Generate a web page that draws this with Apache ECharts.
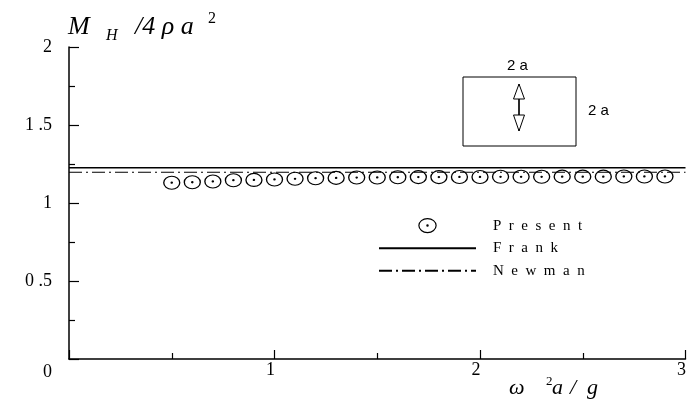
<!DOCTYPE html>
<html>
<head>
<meta charset="utf-8">
<script src="https://cdn.jsdelivr.net/npm/echarts@6/dist/echarts.min.js"></script>
<style>
html,body{margin:0;padding:0;background:#fff;}
#chart{width:689px;height:402px;}
</style>
</head>
<body>
<div id="chart"></div>
<script>
// ---- data ----
var presentX = [0.5,0.6,0.7,0.8,0.9,1.0,1.1,1.2,1.3,1.4,1.5,1.6,1.7,1.8,1.9,2.0,2.1,2.2,2.3,2.4,2.5,2.6,2.7,2.8,2.9];
var presentY = [1.130,1.133,1.138,1.146,1.148,1.151,1.155,1.159,1.161,1.163,1.164,1.165,1.166,1.166,1.167,1.167,1.168,1.168,1.168,1.169,1.169,1.169,1.170,1.170,1.170];
var lineX = [0, 3];
var frankValue = 1.226;
var newmanValue = 1.197;
var seriesNames = ['Present', 'Frank', 'Newman'];
var xTickLabels = {0: '0', 1: '1', 2: '2', 3: '3'};
var yTickLabels = {0: '0', 0.5: '0 .5', 1: '1', 1.5: '1 .5', 2: '2'};

var serif = 'Liberation Serif, Times New Roman, serif';
var sans = 'Liberation Sans, Arial, sans-serif';
var ellipsePath = 'path://M0 6.5A8 6.5 0 1 0 16 6.5A8 6.5 0 1 0 0 6.5Z M7.4 6.5A0.6 0.6 0 1 0 8.6 6.5A0.6 0.6 0 1 0 7.4 6.5Z';

var chart = echarts.init(document.getElementById('chart'), null, {renderer: 'canvas'});

function spaced(s) { return s.split('').join('\u2002'); }

var hiddenSymbol = {color: 'transparent', borderColor: 'transparent', borderWidth: 0};

var option = {
  animation: false,
  backgroundColor: '#fff',
  grid: {left: 69, right: 1, top: 47, bottom: 43, containLabel: false},
  xAxis: {
    type: 'value', min: 0, max: 3, interval: 1,
    axisLine: {show: true, onZero: false, lineStyle: {color: '#000', width: 1.5}},
    axisTick: {show: true, inside: true, length: 9, lineStyle: {color: '#000', width: 1.2}},
    minorTick: {show: true, splitNumber: 2, length: 6, lineStyle: {color: '#000', width: 1.2}},
    splitLine: {show: false},
    axisLabel: {
      margin: 2, color: '#000', fontFamily: serif, fontSize: 18, padding: [0, 8, 0, 0],
      formatter: function (v) { return v === 0 ? '' : xTickLabels[v]; }
    }
  },
  yAxis: {
    type: 'value', min: 0, max: 2, interval: 0.5,
    axisLine: {show: true, onZero: false, lineStyle: {color: '#000', width: 1.5}},
    axisTick: {show: true, inside: true, length: 10, lineStyle: {color: '#000', width: 1.2}},
    minorTick: {show: true, splitNumber: 2, length: 6, lineStyle: {color: '#000', width: 1.2}},
    splitLine: {show: false},
    axisLabel: {
      margin: 17, color: '#000', fontFamily: serif, fontSize: 18,
      formatter: function (v) { return v === 0 ? '{z|0}' : yTickLabels[v]; },
      rich: {z: {fontFamily: serif, fontSize: 18, color: '#000', padding: [26, 0, 0, 0]}}
    }
  },
  legend: {
    show: true, orient: 'vertical', left: 373, top: 213,
    itemWidth: 97, itemHeight: 14, itemGap: 7.5,
    symbolKeepAspect: true,
    selectedMode: false,
    textStyle: {color: '#000', fontFamily: serif, fontSize: 15, lineHeight: 14, padding: [0, 0, 0, 12]},
    formatter: function (name) { return spaced(name); },
    data: [
      {name: seriesNames[0], itemStyle: {color: 'transparent', borderColor: '#000', borderWidth: 1.2}},
      {name: seriesNames[1], itemStyle: hiddenSymbol},
      {name: seriesNames[2], itemStyle: hiddenSymbol}
    ]
  },
  series: [
    {
      name: seriesNames[1], type: 'line',
      data: lineX.map(function (x) { return [x, frankValue]; }),
      showSymbol: false, symbol: 'none',
      lineStyle: {color: '#000', width: 1.5, type: 'solid'},
      itemStyle: {color: '#000'}, z: 2
    },
    {
      name: seriesNames[2], type: 'line',
      data: lineX.map(function (x) { return [x, newmanValue]; }),
      showSymbol: false, symbol: 'none',
      lineStyle: {color: '#000', width: 1.2, type: [13, 4, 2, 4]},
      itemStyle: {color: '#000'}, z: 2
    },
    {
      name: seriesNames[0], type: 'scatter',
      data: presentX.map(function (x, i) { return [x, presentY[i]]; }),
      symbol: ellipsePath, symbolSize: [16, 13], symbolKeepAspect: false,
      itemStyle: {color: 'transparent', borderColor: '#000', borderWidth: 1.2, opacity: 1},
      z: 3
    }
  ],
  graphic: [
    // axis titles
    {type: 'text', left: 68, top: 14, style: {text: 'M', font: 'italic 26px ' + serif, fill: '#000'}},
    {type: 'text', left: 106, top: 28, style: {text: 'H', font: 'italic 16px ' + serif, fill: '#000'}},
    {type: 'text', left: 135, top: 14, style: {text: '/4 \u03c1 a', font: 'italic 26px ' + serif, fill: '#000'}},
    {type: 'text', left: 208, top: 11, style: {text: '2', font: '16px ' + serif, fill: '#000'}},
    {type: 'text', left: 509, top: 377, style: {text: '\u03c9', font: 'italic 22px ' + serif, fill: '#000'}},
    {type: 'text', left: 546, top: 375, style: {text: '2', font: '13px ' + serif, fill: '#000'}},
    {type: 'text', left: 552, top: 377, style: {text: 'a', font: 'italic 22px ' + serif, fill: '#000'}},
    {type: 'text', left: 570, top: 377, style: {text: '/', font: 'italic 22px ' + serif, fill: '#000'}},
    {type: 'text', left: 587, top: 377, style: {text: 'g', font: 'italic 22px ' + serif, fill: '#000'}},
    // inset sketch
    {type: 'rect', shape: {x: 463, y: 77, width: 113, height: 69}, style: {fill: 'none', stroke: '#000', lineWidth: 1}},
    {type: 'line', shape: {x1: 519, y1: 84, x2: 519, y2: 131}, style: {stroke: '#000', lineWidth: 1.2}},
    {type: 'polygon', shape: {points: [[519, 84], [513.5, 99], [524.5, 99]]}, style: {fill: '#fff', stroke: '#000', lineWidth: 1}},
    {type: 'polygon', shape: {points: [[513.5, 115], [524.5, 115], [519, 131]]}, style: {fill: '#fff', stroke: '#000', lineWidth: 1}},
    {type: 'line', shape: {x1: 519, y1: 99, x2: 519, y2: 115}, style: {stroke: '#000', lineWidth: 1.2}},
    {type: 'text', left: 507, top: 58, style: {text: '2 a', font: '15px ' + sans, fill: '#000'}},
    {type: 'text', left: 588, top: 103, style: {text: '2 a', font: '15px ' + sans, fill: '#000'}}
  ]
};
chart.setOption(option);
</script>
</body>
</html>
